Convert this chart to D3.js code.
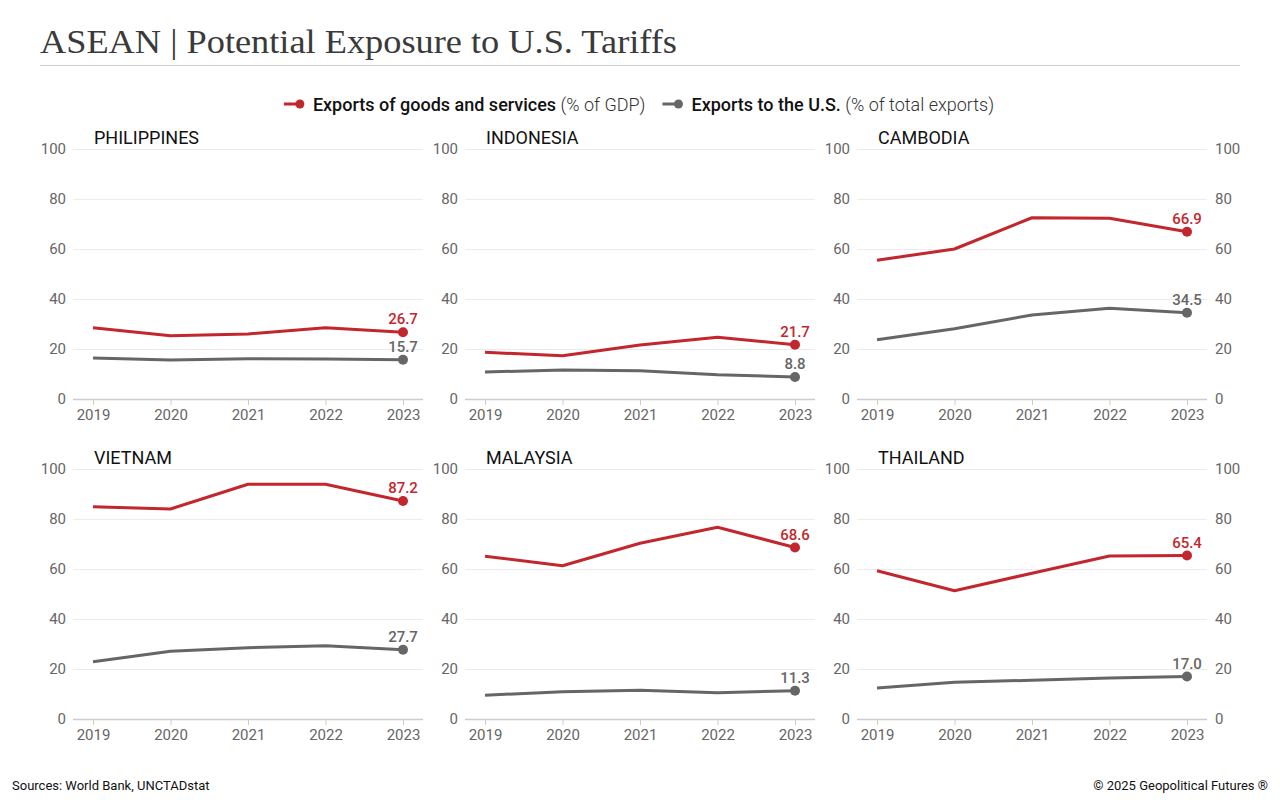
<!DOCTYPE html>
<html><head><meta charset="utf-8">
<script src="https://cdn.jsdelivr.net/npm/d3@7"></script>
<style>
html,body{margin:0;padding:0;background:#fff;}
svg{display:block;font-family:Roboto,"Noto Sans",sans-serif;}
</style></head>
<body>
<svg id="c" width="1280" height="800"></svg>
<script>
const years = [2019, 2020, 2021, 2022, 2023];
const countries = ["PHILIPPINES", "INDONESIA", "CAMBODIA", "VIETNAM", "MALAYSIA", "THAILAND"];
const exportsGDP = [
  [28.5, 25.3, 26.0, 28.5, 26.7],
  [18.7, 17.3, 21.6, 24.7, 21.7],
  [55.5, 60.0, 72.5, 72.3, 66.9],
  [84.9, 84.0, 93.9, 93.9, 87.2],
  [65.1, 61.3, 70.3, 76.7, 68.6],
  [59.3, 51.3, 58.3, 65.2, 65.4]
];
const exportsUS = [
  [16.4, 15.6, 16.1, 16.0, 15.7],
  [10.8, 11.6, 11.3, 9.7, 8.8],
  [23.7, 28.1, 33.6, 36.3, 34.5],
  [22.9, 27.1, 28.5, 29.3, 27.7],
  [9.5, 10.9, 11.5, 10.5, 11.3],
  [12.4, 14.7, 15.5, 16.4, 17.0]
];
const yTicks = [0, 20, 40, 60, 80, 100];
const seriesNames = ["Exports of goods and services", "Exports to the U.S."];
const seriesUnits = ["(% of GDP)", "(% of total exports)"];
const titleText = "ASEAN | Potential Exposure to U.S. Tariffs";
const sourceText = "Sources: World Bank, UNCTADstat";
const creditText = "© 2025 Geopolitical Futures ®";

const RED = "#c1272d", GRAY = "#666666";
const colors = [RED, GRAY];
const svg = d3.select("#c");

// Title
svg.append("text").attr("x", 40).attr("y", 53)
  .attr("font-family", "'Liberation Serif', 'DejaVu Serif', serif")
  .attr("font-size", 33).attr("fill", "#3a3a3a")
  .attr("textLength", 637).attr("lengthAdjust", "spacingAndGlyphs")
  .text(titleText);
svg.append("line").attr("x1", 40).attr("x2", 1240).attr("y1", 65.5).attr("y2", 65.5)
  .attr("stroke", "#cccccc").attr("stroke-width", 1);

// Legend
const leg = svg.append("g");
let lx = 0;
seriesNames.forEach((n, i) => {
  const g = leg.append("g").attr("transform", `translate(${lx},0)`);
  g.append("line").attr("x1", 0).attr("x2", 14).attr("y1", 104).attr("y2", 104)
    .attr("stroke", colors[i]).attr("stroke-width", 3);
  g.append("circle").attr("cx", 16).attr("cy", 104).attr("r", 4.5).attr("fill", colors[i]);
  const t = g.append("text").attr("x", 29).attr("y", 110.5).attr("font-size", 18).attr("fill", "#111");
  t.append("tspan").attr("font-weight", 500).text(n);
  t.append("tspan").attr("font-weight", 300).attr("fill", "#333").text(" " + seriesUnits[i]);
  lx += 29 + t.node().getComputedTextLength() + 17;
});
const lw = lx - 17;
leg.attr("transform", `translate(${639 - lw / 2},0)`);

// Panels
const colX = [73, 465, 857];
const rowY = [149, 469];
const W = 350, H = 250;

countries.forEach((c, i) => {
  const col = i % 3, row = Math.floor(i / 3);
  const g = svg.append("g").attr("transform", `translate(${colX[col]},${rowY[row]})`);
  const x = d3.scalePoint().domain(years).range([20, 330]);
  const y = d3.scaleLinear().domain([0, 100]).range([H, 0]);

  // grid + left labels
  const ga = g.append("g").call(d3.axisLeft(y).tickValues(yTicks).tickSize(-W).tickPadding(7));
  ga.select(".domain").remove();
  ga.selectAll(".tick line").attr("stroke", "#ebebeb").attr("stroke-width", 1);
  ga.selectAll(".tick text").attr("fill", "#666").attr("font-size", 15).attr("font-family", "Roboto");
  if (col === 2) {
    const gr = g.append("g").attr("transform", `translate(${W},0)`)
      .call(d3.axisRight(y).tickValues(yTicks).tickSize(0).tickPadding(8));
    gr.select(".domain").remove();
    gr.selectAll(".tick text").attr("fill", "#666").attr("font-size", 15).attr("font-family", "Roboto");
  }
  // x axis
  const gx = g.append("g").attr("transform", `translate(0,${H})`)
    .call(d3.axisBottom(x).tickSize(6).tickPadding(4).tickFormat(d3.format("d")));
  gx.select(".domain").remove();
  gx.selectAll(".tick line").attr("stroke", "#cccccc");
  gx.selectAll(".tick text").attr("fill", "#666").attr("font-size", 15).attr("font-family", "Roboto");
  g.append("line").attr("x1", 0).attr("x2", W).attr("y1", H + 0.5).attr("y2", H + 0.5)
    .attr("stroke", "#cccccc").attr("stroke-width", 1.5);

  // title
  g.append("text").attr("x", 21).attr("y", -5).attr("font-size", 18).attr("fill", "#111")
    .text(c);

  const line = d3.line().x((d, j) => x(years[j])).y(d => y(d));
  [exportsUS[i], exportsGDP[i]].forEach((vals, k) => {
    const color = k === 0 ? GRAY : RED;
    g.append("path").datum(vals).attr("d", line).attr("fill", "none")
      .attr("stroke", color).attr("stroke-width", 3).attr("stroke-linejoin", "round");
    const last = vals[vals.length - 1];
    g.append("circle").attr("cx", x(years[4])).attr("cy", y(last)).attr("r", 5).attr("fill", color);
    g.append("text").attr("x", x(years[4])).attr("y", y(last) - 8)
      .attr("text-anchor", "middle").attr("font-size", 15).attr("font-weight", 500)
      .attr("fill", color).text(last.toFixed(1));
  });
});

// footer
svg.append("text").attr("x", 12).attr("y", 790).attr("font-size", 13).attr("fill", "#111")
  .text(sourceText);
svg.append("text").attr("x", 1268).attr("y", 790).attr("font-size", 13).attr("fill", "#111")
  .attr("text-anchor", "end").text(creditText);
</script>
</body></html>
